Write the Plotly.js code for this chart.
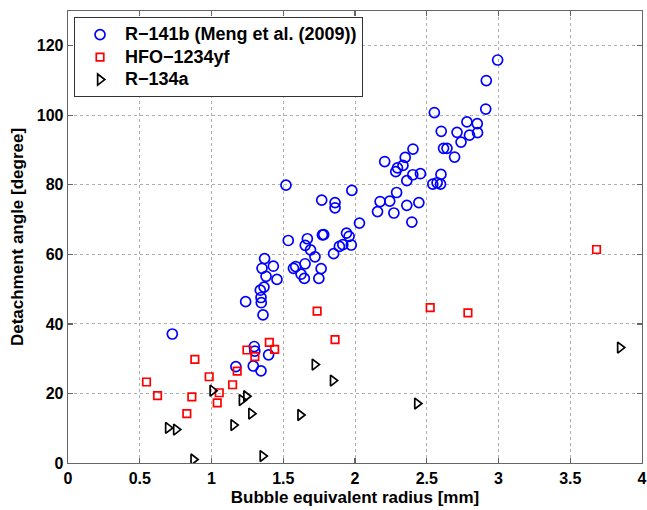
<!DOCTYPE html>
<html>
<head>
<meta charset="utf-8">
<script src="https://cdn.plot.ly/plotly-3.0.1.min.js"></script>
<style>html,body{margin:0;padding:0;background:#fff;}#chart{width:647px;height:510px;}</style>
</head>
<body>
<div id="chart"></div>
<script>
// R-141b (Meng et al. (2009))
const r141bX = [0.727,1.238,1.370,1.352,1.431,1.380,1.456,1.366,1.340,1.345,1.347,1.359,1.298,1.302,1.398,1.170,1.291,1.345,
  1.571,1.587,1.652,1.624,1.647,1.748,1.764,1.851,1.519,1.535,1.668,1.653,1.690,1.721,1.768,1.861,1.861,1.773,1.782,
  1.891,1.915,1.941,1.959,1.974,1.978,2.031,2.157,2.175,2.242,2.271,2.290,2.207,2.284,2.296,2.994,2.915,2.911,2.553,
  2.780,2.852,2.601,2.711,2.798,2.854,2.739,2.617,2.641,2.694,2.404,2.350,2.334,2.403,2.456,2.361,2.542,2.572,2.596,
  2.599,2.361,2.445,2.396];
const r141bY = [37.1,46.4,58.8,56.0,56.6,53.7,52.8,50.6,49.7,47.6,46.1,42.6,33.5,32.2,31.1,27.7,27.9,26.5,
  56.0,56.5,57.3,54.3,53.1,53.1,55.9,60.2,79.9,64.0,64.5,62.6,61.3,59.3,75.6,74.9,73.4,65.6,65.7,
  62.3,62.8,66.1,65.2,62.7,78.4,69.0,72.3,75.2,75.3,71.9,77.8,86.7,83.8,84.9,115.9,110.0,101.8,100.8,
  98.1,97.6,95.4,95.1,94.3,95.0,92.3,90.5,90.5,88.0,90.3,87.9,85.6,82.9,83.2,81.2,80.2,80.6,80.2,
  83.0,74.1,74.9,69.3];

// HFO-1234yf
const hfoX = [0.547,0.624,0.884,0.863,0.828,0.984,1.054,1.040,1.147,1.179,1.247,1.302,1.403,1.440,1.736,1.861,2.524,2.787,3.683];
const hfoY = [23.3,19.4,29.8,19.0,14.2,24.8,20.2,17.3,22.5,26.4,32.5,30.6,34.7,32.7,43.7,35.5,44.7,43.2,61.4];

// R-134a
const r134aX = [0.697,0.753,0.874,1.007,1.153,1.211,1.242,1.277,1.356,1.619,1.719,1.846,2.433,3.847];
const r134aY = [10.1,9.6,1.0,20.8,10.9,18.1,19.2,14.2,2.0,13.8,28.3,23.7,17.1,33.2];

const seriesNames = ['R\u2212141b (Meng et al. (2009))', 'HFO\u22121234yf', 'R\u2212134a'];

const xTicks = [0,0.5,1,1.5,2,2.5,3,3.5,4];
const xTickText = ['0','0.5','1','1.5','2','2.5','3','3.5','4'];
const yTicks = [0,20,40,60,80,100,120];

const FONT = 'Liberation Sans, Arial, Helvetica, sans-serif';
const legName = s => '<span style="font-size:18px">' + s + '</span>';

const traces = [
  {x: r141bX, y: r141bY, type: 'scatter', mode: 'markers', name: legName(seriesNames[0]),
   marker: {symbol: 'circle-open', size: 10, color: '#0000ff', line: {color: '#0000ff', width: 1.7}}},
  {x: hfoX, y: hfoY, type: 'scatter', mode: 'markers', name: legName(seriesNames[1]),
   marker: {symbol: 'square-open', size: 7.5, color: '#ff0000', line: {color: '#ff0000', width: 1.7}}},
  {x: r134aX, y: r134aY, type: 'scatter', mode: 'markers', name: legName(seriesNames[2]),
   marker: {symbol: 'triangle-right-open', size: 9.5, color: '#000000', line: {color: '#000000', width: 1.7}}}
];

const axisCommon = {
  showline: true, linecolor: '#666', linewidth: 1.3, mirror: 'allticks',
  ticks: 'inside', ticklen: 5, tickwidth: 1.2, tickcolor: '#666',
  showgrid: true, gridcolor: '#b0b0b0', gridwidth: 1, griddash: 'dot',
  zeroline: false,
  tickfont: {family: FONT, size: 16, color: '#000', weight: 'bold'}
};

const layout = {
  width: 647, height: 510,
  margin: {l: 68, r: 5, t: 11, b: 47},
  paper_bgcolor: '#fff', plot_bgcolor: '#fff',
  showlegend: true,
  font: {family: FONT, color: '#000'},
  xaxis: Object.assign({}, axisCommon, {
    range: [0, 4], tickvals: xTicks, ticktext: xTickText,
    title: {text: 'Bubble equivalent radius [mm]', font: {family: FONT, size: 17, color: '#000', weight: 'bold'}, standoff: 5}
  }),
  yaxis: Object.assign({}, axisCommon, {
    range: [0, 130], tickvals: yTicks,
    title: {text: 'Detachment angle [degree]', font: {family: FONT, size: 17, color: '#000', weight: 'bold'}, standoff: 8}
  }),
  legend: {
    x: 0.0105, y: 0.986, xanchor: 'left', yanchor: 'top',
    bgcolor: '#fff', bordercolor: '#333', borderwidth: 1,
    font: {family: FONT, size: 15, color: '#000', weight: 'bold'},
    itemwidth: 40,
    tracegroupgap: 0
  }
};

Plotly.newPlot('chart', traces, layout, {displayModeBar: false, staticPlot: true});
</script>
</body>
</html>
